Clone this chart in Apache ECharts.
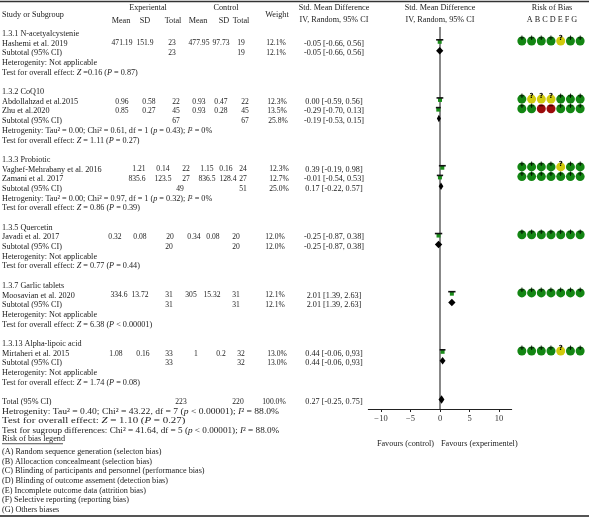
<!DOCTYPE html>
<html><head><meta charset="utf-8">
<script src="https://cdn.jsdelivr.net/npm/echarts@6/dist/echarts.min.js"></script>
<style>html,body{margin:0;padding:0;background:#fff}#c{width:589px;height:518px}</style>
</head><body><div id="c"></div>
<script>
// ---------------- DATA ----------------
const groupNames = ['1.3.1 N-acetyalcystenie','1.3.2 CoQ10','1.3.3 Probiotic','1.3.5 Quercetin','1.3.7 Garlic tablets','1.3.13 Alpha-lipoic acid'];
const studyNames = ['Hashemi et al. 2019','Abdollahzad et al.2015','Zhu et al.2020','Vaghef-Mehrabany et al. 2016','Zamani et al. 2017','Javadi et al. 2017','Moosavian et al. 2020','Mirtaheri et al. 2015'];
const expMean = ['471.19','0.96','0.85','1.21','835.6','0.32','334.6','1.08'];
const expSD   = ['151.9','0.58','0.27','0.14','123.5','0.08','13.72','0.16'];
const expN    = [23,22,45,22,27,20,31,33];
const ctlMean = ['477.95','0.93','0.93','1.15','836.5','0.34','305','1'];
const ctlSD   = ['97.73','0.47','0.28','0.16','128.4','0.08','15.32','0.2'];
const ctlN    = [19,22,45,24,27,20,31,32];
const studyWeight = ['12.1%','12.3%','13.5%','12.3%','12.7%','12.0%','12.1%','13.0%'];
const studySMD = [-0.05,0.00,-0.29,0.39,-0.01,-0.25,2.01,0.44];
const studyLo  = [-0.66,-0.59,-0.70,-0.19,-0.54,-0.87,1.39,-0.06];
const studyHi  = [0.56,0.56,0.13,0.98,0.53,0.38,2.63,0.93];
const studyCILabel = ['-0.05 [-0.66, 0.56]','0.00 [-0.59, 0.56]','-0.29 [-0.70, 0.13]','0.39 [-0.19, 0.98]','-0.01 [-0.54, 0.53]','-0.25 [-0.87, 0.38]','2.01 [1.39, 2.63]','0.44 [-0.06, 0,93]'];
const subSMD = [-0.05,-0.19,0.17,-0.25,2.01,0.44];
const subLo  = [-0.66,-0.53,-0.22,-0.87,1.39,-0.06];
const subHi  = [0.56,0.15,0.57,0.38,2.63,0.93];
const subCILabel = ['-0.05 [-0.66, 0.56]','-0.19 [-0.53, 0.15]','0.17 [-0.22, 0.57]','-0.25 [-0.87, 0.38]','2.01 [1.39, 2.63]','0.44 [-0.06, 0,93]'];
const subExpN = [23,67,49,20,31,33];
const subCtlN = [19,67,51,20,31,32];
const subWeight = ['12.1%','25.8%','25.0%','12.0%','12.1%','13.0%'];
const totalSMD = [0.27], totalLo = [-0.25], totalHi = [0.75];
const totalCILabel = ['0.27 [-0.25, 0.75]'];
const totalN = [223,220];
const totalWeight = ['100.0%'];
const hetText = [
  'Heterogenity: Not applicable',
  'Hetrogenity: Tau² = 0.00; Chi² = 0.61, df = 1 ({i|p} = 0.43); {i|I}² = 0%',
  'Hetrogenity: Tau² = 0.00; Chi² = 0.97, df = 1 ({i|p} = 0.32); {i|I}² = 0%',
  'Heterogenity: Not applicable','Heterogenity: Not applicable','Heterogenity: Not applicable'];
const testText = [
  'Test for overall effect: {i|Z} =0.16 ({i|P} = 0.87)',
  'Test for overall effect: {i|Z} = 1.11 ({i|P} = 0.27)',
  'Test for overall effect: {i|Z} = 0.86 ({i|P} = 0.39)',
  'Test for overall effect: {i|Z} = 0.77 ({i|P} = 0.44)',
  'Test for overall effect: {i|Z} = 6.38 ({i|P} < 0.00001)',
  'Test for overall effect: {i|Z} = 1.74 ({i|P} = 0.08)'];
const totalTexts = [
  'Hetrogenity: Tau² = 0.40; Chi² = 43.22, df = 7 ({i|p} < 0.00001); {i|I}² = 88.0%',
  'Test for overall effect: {i|Z} = 1.10 ({i|P} = 0.27)',
  'Test for sugroup differences: Chi² = 41.64, df = 5 ({i|p} < 0.00001); {i|I}² = 88.0%'];
const legendItems = ['(A) Random sequence generation (selecton bias)','(B) Allocaction concealmeant (selection bias)','(C) Blinding of participants and personnel (performance bias)','(D) Blinding of outcome assement (detection bias)','(E) Incomplete outcome data (attrition bias)','(F) Selective reporting (reporting bias)','(G) Others biases'];
const robDomains = ['A','B','C','D','E','F','G'];
const robRatings = [
  ['L','L','L','L','U','L','L'],
  ['L','U','U','U','L','L','L'],
  ['L','L','H','H','L','L','L'],
  ['L','L','L','L','U','L','L'],
  ['L','L','L','L','L','L','L'],
  ['L','L','L','L','L','L','L'],
  ['L','L','L','L','L','L','L'],
  ['L','L','L','L','U','L','L']];
const axisTicks = [-10,-5,0,5,10];

// ---------------- LAYOUT ----------------
const FONT = '"Liberation Serif","Times New Roman",serif';
const FS = 8.2;     // text
const FN = 7.6;     // table numbers
const TXT = '#222';
const groupRow = [0,6,13,20,26,32];
const studyRow = [1,7,8,14,15,21,27,33];
const subRow = [2,9,16,22,28,34];
const hetRow = [3,10,17,23,29,35];
const testRow = [4,11,18,24,30,36];
const totalRow = 38;
const ROWMIN = -0.7, ROWMAX = 38.73, GTOP = 27.02, GH = 382;
// per-study column centers: expMean, expSD, expN, ctlMean, ctlSD, ctlN, weight
const studyColX = [
  [122,145,172,199,221,241,276],
  [122,149,176,199,221,245,277],
  [122,149,176,199,221,245,277],
  [139,163,186,207,226,243,279],
  [137,163,186,207,228,243,279],
  [115,140,170,194,213,236,275],
  [119,140,169,191,212,236,275],
  [116,143,169,196,221,241,277]];
const subColX = [[172,241,276],[176,245,278],[180,243,279],[169,236,275],[169,236,275],[169,241,277]];
const totalColX = [181,238,274];
const CI_X = 334;
const MARK_DY = -2.5;

const cells = [];
function cell(x,row,text,align,opt){ cells.push(Object.assign({x,row,text,align:align||'center',fs:FS,sx:1},opt||{})); }
const num = {fs:FN};
groupNames.forEach((g,i)=>{
  cell(2,groupRow[i],g,'left');
  cell(2,subRow[i],'Subtotal (95% CI)','left');
  cell(subColX[i][0],subRow[i],String(subExpN[i]),'center',num);
  cell(subColX[i][1],subRow[i],String(subCtlN[i]),'center',num);
  cell(subColX[i][2],subRow[i],subWeight[i],'center',num);
  cell(CI_X,subRow[i],subCILabel[i]);
  cell(2,hetRow[i],hetText[i],'left');
  cell(2,testRow[i],testText[i],'left');
});
studyNames.forEach((s,i)=>{
  const r = studyRow[i], cx = studyColX[i];
  cell(2,r,s,'left');
  cell(cx[0],r,expMean[i],'center',num); cell(cx[1],r,expSD[i],'center',num); cell(cx[2],r,String(expN[i]),'center',num);
  cell(cx[3],r,ctlMean[i],'center',num); cell(cx[4],r,ctlSD[i],'center',num); cell(cx[5],r,String(ctlN[i]),'center',num);
  cell(cx[6],r,studyWeight[i],'center',num);
  cell(CI_X,r,studyCILabel[i]);
});
cell(2,totalRow,'Total (95% CI)','left');
cell(totalColX[0],totalRow,String(totalN[0]),'center',num);
cell(totalColX[1],totalRow,String(totalN[1]),'center',num);
cell(totalColX[2],totalRow,totalWeight[0],'center',num);
cell(CI_X,totalRow,totalCILabel[0]);
const totalStretch = [1.17,1.33,1.12];
totalTexts.forEach((t,i)=>cell(2,totalRow+1+i,t,'left',{sx:totalStretch[i]}));
cell(2,41.85,'Risk of bias legend','left',{underline:61});
legendItems.forEach((t,i)=>cell(2,43.15+i,t,'left'));

const forestItems = [];
studyNames.forEach((s,i)=>forestItems.push([studySMD[i],studyLo[i],studyHi[i],studyRow[i],0]));
groupNames.forEach((g,i)=>forestItems.push([subSMD[i],subLo[i],subHi[i],subRow[i],1]));
forestItems.push([totalSMD[0],totalLo[0],totalHi[0],totalRow,2]);

const robData = [];
robRatings.forEach((row,s)=>row.forEach((v,k)=>robData.push([k,studyRow[s],v])));
const robColor = {L:'#138613',U:'#d0ca0c',H:'#9c0b0b'};
const robSym = {L:'+',U:'?',H:'−'};

const yAx = (gi)=>({gridIndex:gi,type:'value',min:ROWMIN,max:ROWMAX,inverse:true,show:false});
const T = (x,y,text,align)=>({type:'text',x,y,style:{text,font:FS+'px '+FONT,fill:TXT,align:align||'center',verticalAlign:'middle'}});

const chart = echarts.init(document.getElementById('c'),null,{renderer:'canvas'});
chart.setOption({
  animation:false,
  backgroundColor:'#fff',
  grid:[
    {left:368.3,width:143.4,top:GTOP,height:GH},
    {left:0,width:589,top:GTOP,height:GH},
    {left:517,width:68,top:GTOP,height:GH}
  ],
  xAxis:[
    {gridIndex:0,type:'value',min:-12.15,max:12.15,
     axisLine:{show:true,onZero:false,lineStyle:{color:'#222',width:1}},
     axisTick:{show:true,customValues:axisTicks,length:3,lineStyle:{color:'#222'}},
     axisLabel:{show:true,customValues:axisTicks,margin:5,fontFamily:FONT,fontSize:8.5,color:'#333',
       formatter:v=>v<0?'\u2212'+(-v):String(v)},
     splitLine:{show:false}},
    {gridIndex:1,type:'value',min:0,max:589,show:false},
    {gridIndex:2,type:'category',data:robDomains,show:false}
  ],
  yAxis:[yAx(0),yAx(1),yAx(2)],
  series:[
    {type:'custom',xAxisIndex:0,yAxisIndex:0,silent:true,z:1,data:[],renderItem:()=>null,
     markLine:{silent:true,symbol:['none','none'],label:{show:false},
       lineStyle:{color:'#888',width:2,type:'solid'},data:[{xAxis:0}]}},
    {type:'custom',xAxisIndex:0,yAxisIndex:0,silent:true,z:5,clip:false,
     data:forestItems,
     renderItem:(params,api)=>{
       const est=api.value(0),lo=api.value(1),hi=api.value(2),row=api.value(3),kind=api.value(4);
       const c=api.coord([est,row]), l=api.coord([lo,row]), h=api.coord([hi,row]);
       const y=c[1]+MARK_DY;
       if(kind===0){
         return {type:'group',children:[
           {type:'rect',shape:{x:c[0]-2,y:y-1.2,width:4,height:4},style:{fill:'#1a8c1a'}},
           {type:'line',shape:{x1:l[0],y1:y-1.2,x2:h[0],y2:y-1.2},style:{stroke:'#111',lineWidth:1.6}}
         ]};
       }
       const hh = kind===2?4.2:3.8;
       return {type:'polygon',shape:{points:[[l[0],y],[c[0],y-hh],[h[0],y],[c[0],y+hh]]},style:{fill:'#000'}};
     }},
    {type:'custom',xAxisIndex:1,yAxisIndex:1,silent:true,z:3,clip:false,
     data:cells.map((c,i)=>[c.x,c.row,i]),
     renderItem:(params,api)=>{
       const cl=cells[api.value(2)];
       const p=api.coord([api.value(0),api.value(1)]);
       const t={type:'text',x:p[0],y:p[1],scaleX:cl.sx,scaleY:1,style:{text:cl.text,font:cl.fs+'px '+FONT,fill:TXT,
         align:cl.align,verticalAlign:'middle',
         rich:{i:{fontStyle:'italic',fontSize:cl.fs,fontFamily:FONT,fill:TXT}}}};
       if(cl.underline){
         return {type:'group',children:[t,{type:'line',shape:{x1:p[0],y1:p[1]+4.5,x2:p[0]+cl.underline,y2:p[1]+4.5},style:{stroke:'#222',lineWidth:0.8}}]};
       }
       return t;
     }},
    {type:'scatter',xAxisIndex:2,yAxisIndex:2,silent:true,z:4,
     data:robData,symbol:'circle',symbolSize:9,symbolOffset:[0,MARK_DY],
     itemStyle:{opacity:1,color:p=>robColor[p.value[2]]},
     label:{show:true,position:'inside',offset:[0,MARK_DY],formatter:p=>robSym[p.value[2]],
       fontSize:7,fontWeight:'bold',fontFamily:'DejaVu Sans',color:'#000'}}
  ],
  graphic:[
    {type:'line',shape:{x1:0,y1:1.5,x2:589,y2:1.5},style:{stroke:'#333',lineWidth:1.5}},
    {type:'line',shape:{x1:0,y1:516,x2:589,y2:516},style:{stroke:'#555',lineWidth:2}},
    T(148,8,'Experiental'), T(226,8,'Control'),
    T(2,15,'Study or Subgroup','left'), T(277,15,'Weight'),
    T(121,21,'Mean'), T(145,21,'SD'), T(173,21,'Total'),
    T(198,21,'Mean'), T(224,21,'SD'), T(241,21,'Total'),
    T(334,8,'Std. Mean Difference'), T(334,20,'IV, Random, 95% CI'),
    T(440,8,'Std. Mean Difference'), T(440,20,'IV, Random, 95% CI'),
    T(552,8,'Risk of Bias'), T(552,20,'A B C D E F G'),
    T(434,444,'Favours (control)','right'), T(441,444,'Favours (experimentel)','left')
  ]
});
</script></body></html>
